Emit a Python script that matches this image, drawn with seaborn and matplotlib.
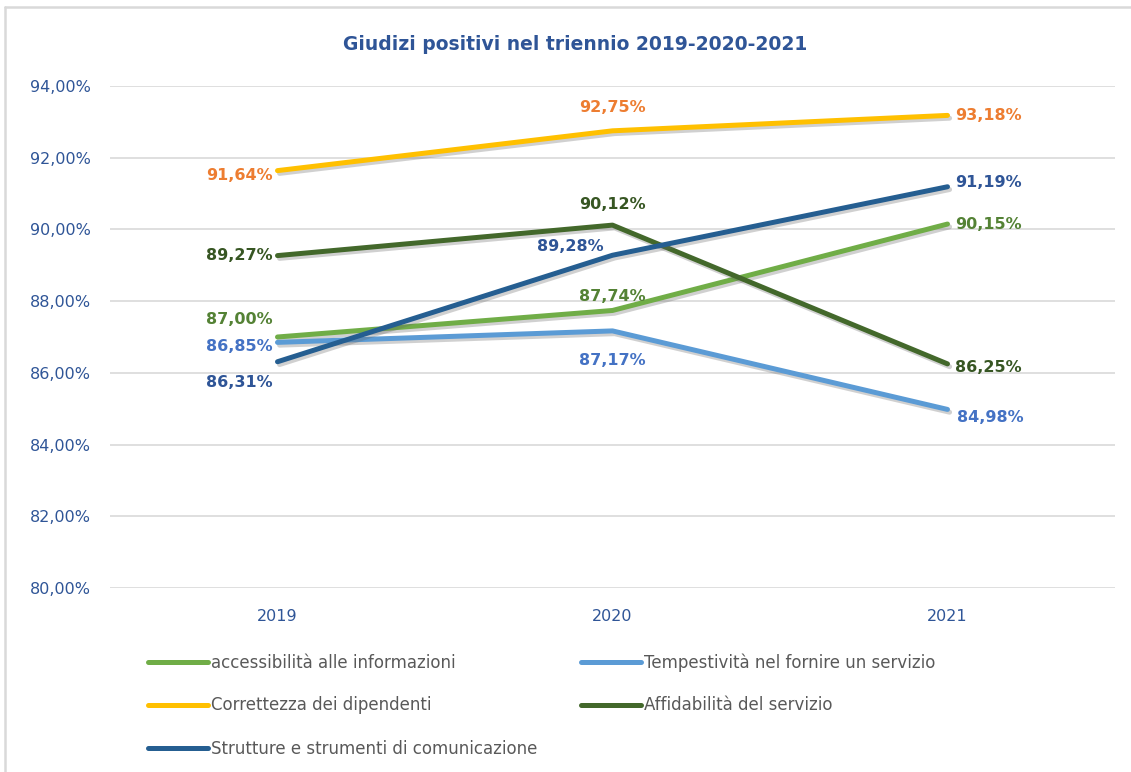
import seaborn as sns
import pandas as pd
import matplotlib.pyplot as plt
import matplotlib.patheffects as pe
from matplotlib.lines import Line2D

anni = ["2019", "2020", "2021"]
serie = [
    "accessibilità alle informazioni",
    "Tempestività nel fornire un servizio",
    "Correttezza dei dipendenti",
    "Affidabilità del servizio",
    "Strutture e strumenti di comunicazione",
]
accessibilita = [87.00, 87.74, 90.15]
tempestivita = [86.85, 87.17, 84.98]
correttezza = [91.64, 92.75, 93.18]
affidabilita = [89.27, 90.12, 86.25]
strutture = [86.31, 89.28, 91.19]
valori = [accessibilita, tempestivita, correttezza, affidabilita, strutture]
yticks = [80, 82, 84, 86, 88, 90, 92, 94]

colori_linea = ["#70AD47", "#5B9BD5", "#FFC000", "#43682B", "#255E91"]
colori_etichetta = ["#548235", "#4472C4", "#ED7D31", "#375623", "#2F5597"]

# offset delle etichette (pixel) e allineamento per ogni punto
pos_etichette = [
    [(-5, 18, "right"), (0, 14, "center"), (8, 0, "left")],
    [(-5, -4, "right"), (0, -30, "center"), (10, -8, "left")],
    [(-5, -5, "right"), (0, 23, "center"), (8, 0, "left")],
    [(-5, 0, "right"), (0, 21, "center"), (8, -4, "left")],
    [(-5, -21, "right"), (-9, 9, "right"), (8, 4, "left")],
]

righe = []
for nome, vals in zip(serie, valori):
    for anno, v in zip(anni, vals):
        righe.append({"anno": anno, "serie": nome, "valore": v})
df = pd.DataFrame(righe)

sns.set_theme(style="white")
fig = plt.figure(figsize=(11.31, 7.72), dpi=100)
ax = fig.add_axes([110 / 1131, 1 - 588 / 772, 1005 / 1131, 502 / 772])

sns.lineplot(data=df, x="anno", y="valore", hue="serie", hue_order=serie,
             palette=dict(zip(serie, colori_linea)), linewidth=3.6, ax=ax,
             legend=False, sort=False)
for line in ax.lines:
    line.set_solid_capstyle("round")
    line.set_path_effects([pe.SimpleLineShadow(offset=(1.5, -2), alpha=0.3, shadow_color="#666666"),
                           pe.Normal()])

for i, vals in enumerate(valori):
    for j, v in enumerate(vals):
        dx, dy, ha = pos_etichette[i][j]
        ax.annotate(f"{v:.2f}%".replace(".", ","), (j, v),
                    xytext=(dx / 1.39, dy / 1.39), textcoords="offset points",
                    ha=ha, va="center", fontsize=11.5, fontweight="bold",
                    color=colori_etichetta[i])

ax.set_xlim(-0.5, 2.5)
ax.set_ylim(80, 94)
ax.set_yticks(yticks)
ax.set_yticklabels([f"{t:.2f}%".replace(".", ",") for t in yticks])
ax.grid(axis="y", color="#D9D9D9", linewidth=1.2)
ax.set_axisbelow(True)
for s in ax.spines.values():
    s.set_visible(False)
ax.tick_params(axis="y", length=0, pad=14, labelsize=11.5, labelcolor="#2F5597")
ax.tick_params(axis="x", length=0, pad=15, labelsize=11.5, labelcolor="#2F5597")
ax.set_xlabel("")
ax.set_ylabel("")

fig.text(575 / 1131, 1 - 44 / 772, "Giudizi positivi nel triennio 2019-2020-2021",
         ha="center", va="center", fontsize=13.5, fontweight="bold", color="#2F5597")

ordine = [0, 2, 4, 1, 3]
handles = [Line2D([0], [0], color=colori_linea[k], linewidth=3.6, solid_capstyle="round")
           for k in ordine]
fig.legend(handles, [serie[k] for k in ordine], ncol=2, frameon=False,
           loc="upper left", bbox_to_anchor=(148 / 1131, 1 - 653 / 772),
           fontsize=12, labelcolor="#595959", handlelength=3.6, handletextpad=0.2,
           columnspacing=2.6, labelspacing=1.5, borderaxespad=0, borderpad=0)

fig.add_artist(Line2D([5 / 1131, 5 / 1131], [0, 1 - 7 / 772], transform=fig.transFigure,
                      color="#D9D9D9", linewidth=1.8))
fig.add_artist(Line2D([5 / 1131, 1], [1 - 7 / 772, 1 - 7 / 772], transform=fig.transFigure,
                      color="#D9D9D9", linewidth=1.8))

fig.savefig("out.png", dpi=100)
